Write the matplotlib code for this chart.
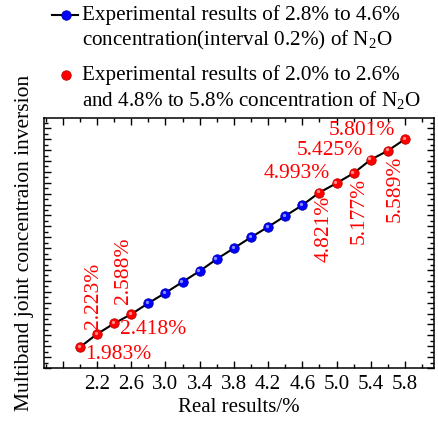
import matplotlib
matplotlib.use("Agg")
import matplotlib.pyplot as plt
import numpy as np
from matplotlib.lines import Line2D
from matplotlib.ticker import MultipleLocator, FixedLocator
import matplotlib.transforms as mtransforms

plt.rcParams['font.family'] = ['Liberation Serif', 'DejaVu Serif']
plt.rcParams['mathtext.fontset'] = 'custom'
plt.rcParams['mathtext.rm'] = 'Liberation Serif'
plt.rcParams['mathtext.default'] = 'regular'

# ---- data ----
blue_x = [2.8, 3.0, 3.2, 3.4, 3.6, 3.8, 4.0, 4.2, 4.4, 4.6]
blue_y = [2.79, 2.98, 3.18, 3.38, 3.60, 3.80, 4.00, 4.19, 4.39, 4.59]
red_x = [2.0, 2.2, 2.4, 2.6, 4.8, 5.0, 5.2, 5.4, 5.6, 5.8]
red_y = [1.983, 2.223, 2.418, 2.588, 4.821, 4.993, 5.177, 5.425, 5.589, 5.801]
red_labels = ["1.983%", "2.223%", "2.418%", "2.588%", "4.821%",
              "4.993%", "5.177%", "5.425%", "5.589%", "5.801%"]
xtick_vals = [1.8, 2.2, 2.6, 3.0, 3.4, 3.8, 4.2, 4.6, 5.0, 5.4, 5.8]
xtick_labels = ["", "2.2", "2.6", "3.0", "3.4", "3.8", "4.2", "4.6", "5.0", "5.4", "5.8"]
legend_blue = ["Experimental results of 2.8% to 4.6%",
               "concentration(interval 0.2%) of N$_2$O"]
legend_red = ["Experimental results of 2.0% to 2.6%",
              "and 4.8% to 5.8% concentration of N$_2$O"]
xlabel = "Real results/%"
ylabel = "Multiband joint concentraion inversion"

# label placement: (dx, dy) in pixels, rotation, ha, va
label_style = [
    (5, -7.5, 0, 'left', 'center'),
    (-3.5, 5, 90, 'center', 'bottom'),
    (6, -6.5, 0, 'left', 'center'),
    (-8, 10, 90, 'center', 'bottom'),
    (4.5, -3, 90, 'center', 'top'),
    (-7, 9.5, 0, 'right', 'center'),
    (5.5, -5, 90, 'center', 'top'),
    (-8, 9.5, 0, 'right', 'center'),
    (7, -5, 90, 'center', 'top'),
    (-10, 8.5, 0, 'right', 'center'),
]

W, H = 438, 426
fig = plt.figure(figsize=(W / 100, H / 100), dpi=100)
ax = fig.add_axes([44 / W, 1 - 368 / H, (434 - 44) / W, (368 - 118) / H])

# black line through all points
all_pts = sorted(zip(red_x + blue_x, red_y + blue_y))
lx = [p[0] for p in all_pts]
ly = [p[1] for p in all_pts]
ax.plot(lx, ly, color='black', lw=1.5, zorder=2)

ms = 6.8
ax.plot(red_x, red_y, 'o', color='#ff0000', mec='#c00000', mew=0.6, ms=ms, zorder=3)
ax.plot(blue_x, blue_y, 'o', color='#0000ff', mec='#0000b0', mew=0.6, ms=ms, zorder=3)
hl = mtransforms.offset_copy(ax.transData, fig=fig, x=-1.3, y=1.3, units='dots')
ax.plot(red_x, red_y, 'o', color='white', alpha=0.55, mew=0, ms=2.4, transform=hl, zorder=4)
ax.plot(blue_x, blue_y, 'o', color='white', alpha=0.55, mew=0, ms=2.4, transform=hl, zorder=4)

for x, y, lab, (dx, dy, rot, ha, va) in zip(red_x, red_y, red_labels, label_style):
    ax.annotate(lab, xy=(x, y), xytext=(dx, dy), textcoords='offset pixels',
                rotation=rot, ha=ha, va=va, color='#ff0000', fontsize=15.5)

ax.set_xlim(1.58, 6.14)
ax.set_ylim(1.6, 6.19)
ax.xaxis.set_major_locator(FixedLocator(xtick_vals))
ax.set_xticklabels(xtick_labels)
ax.xaxis.set_minor_locator(MultipleLocator(0.2))
ax.yaxis.set_major_locator(MultipleLocator(0.2))
ax.yaxis.set_minor_locator(MultipleLocator(0.1))
ax.tick_params(which='both', direction='in', top=True, right=True, width=1)
ax.tick_params(which='major', length=5)
ax.tick_params(which='minor', length=3)
ax.tick_params(axis='x', labelsize=15, pad=5)
ax.tick_params(axis='y', labelleft=False)
for s in ax.spines.values():
    s.set_linewidth(1.1)

ax.set_xlabel(xlabel, fontsize=15, labelpad=3)
ax.set_ylabel(ylabel, fontsize=15.5)
ax.yaxis.set_label_coords(-0.025, 0.5)

# legend drawn manually (handle aligned to first line of each entry)
fs_leg = 15.2
def fx(px):
    return px / W
def fy(py):
    return 1 - py / H

fig.add_artist(Line2D([fx(52), fx(78)], [fy(15), fy(15)], color='black', lw=1.5,
                      transform=fig.transFigure))
fig.add_artist(Line2D([fx(66)], [fy(15)], marker='o', color='#0000ff', mec='#0000b0',
                      mew=0.6, ms=ms, transform=fig.transFigure))
fig.add_artist(Line2D([fx(66)], [fy(75)], marker='o', color='#ff0000', mec='#c00000',
                      mew=0.6, ms=ms, transform=fig.transFigure))
for i, t in enumerate(legend_blue):
    fig.text(fx(82), fy(15 + 25 * i), t, fontsize=fs_leg, va='center', ha='left')
for i, t in enumerate(legend_red):
    fig.text(fx(82), fy(75 + 25 * i), t, fontsize=fs_leg, va='center', ha='left')

fig.savefig("out.png", dpi=100)
